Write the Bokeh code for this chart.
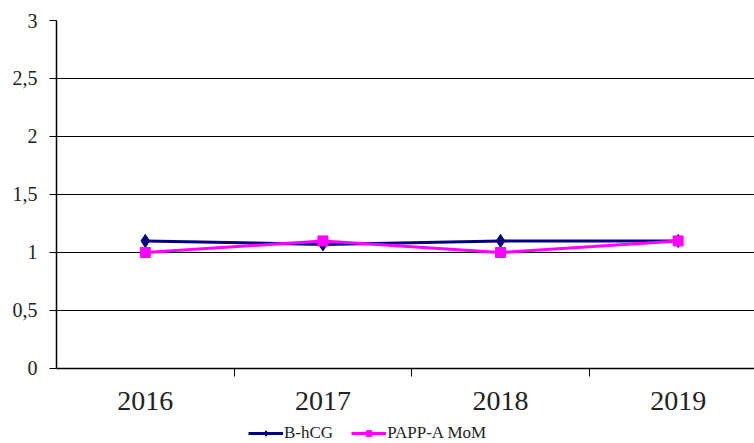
from bokeh.plotting import figure
from bokeh.models import Range1d, FixedTicker, CustomJSTickFormatter, Legend
from bokeh.embed import file_html
from bokeh.resources import INLINE

# Series values per year
years = ["2016", "2017", "2018", "2019"]
bhcg = [1.10, 1.07, 1.10, 1.10]
pappa_mom = [1.00, 1.10, 1.00, 1.10]
y_ticks = [0, 0.5, 1, 1.5, 2, 2.5, 3]

SERIF = "Liberation Serif"
NAVY = "#000080"
MAGENTA = "#FF00FF"

xs = list(range(len(years)))

# The frame runs to the bottom edge; the value axis spans 0..3 and the
# category axis sits at y = 0, leaving room underneath for the legend.
p = figure(
    frame_width=698, frame_height=423,
    x_range=Range1d(-0.5, 3.43), y_range=Range1d(-0.6466, 3),
    output_backend="svg", toolbar_location=None,
    min_border_left=56, min_border_right=0, min_border_top=20, min_border_bottom=0,
)
p.outline_line_color = None
p.background_fill_color = "white"
p.border_fill_color = "white"

# Y axis: comma decimals, serif labels
p.yaxis.ticker = FixedTicker(ticks=y_ticks)
p.yaxis.bounds = (0, 3)
p.yaxis.formatter = CustomJSTickFormatter(code="return tick.toString().replace('.', ',');")
p.yaxis.major_label_text_font = SERIF
p.yaxis.major_label_text_font_size = "20px"
p.yaxis.major_label_text_color = "#222222"
p.yaxis.axis_line_color = "black"
p.yaxis.major_tick_line_color = "black"
p.yaxis.major_tick_out = 7
p.yaxis.major_tick_in = 0
p.yaxis.minor_tick_line_color = None
p.yaxis.major_label_standoff = 12
p.yaxis.axis_line_width = 1.5

# X axis at y = 0: year labels centred on categories, tick marks between them
p.xaxis.fixed_location = 0
p.xaxis.ticker = FixedTicker(ticks=xs, minor_ticks=[x + 0.5 for x in xs])
p.xaxis.formatter = CustomJSTickFormatter(args=dict(years=years),
                                          code="return years[Math.round(tick)] || '';")
p.xaxis.major_label_text_font = SERIF
p.xaxis.major_label_text_font_size = "28px"
p.xaxis.major_label_text_color = "#222222"
p.xaxis.major_tick_line_color = None
p.xaxis.major_tick_out = 0
p.xaxis.major_tick_in = 0
p.xaxis.minor_tick_line_color = "black"
p.xaxis.minor_tick_out = 8
p.xaxis.minor_tick_in = 0
p.xaxis.axis_line_color = "black"
p.xaxis.axis_line_width = 1.5
p.xaxis.major_label_standoff = 16

p.xgrid.grid_line_color = None
p.ygrid.ticker = FixedTicker(ticks=y_ticks)
p.ygrid.grid_line_color = "black"
p.ygrid.grid_line_width = 1.2

# Series
l1 = p.line(xs, bhcg, line_color=NAVY, line_width=3)
s1 = p.scatter(xs, bhcg, marker="diamond", size=13, fill_color=NAVY, line_color=NAVY)
l2 = p.line(xs, pappa_mom, line_color=MAGENTA, line_width=3)
s2 = p.scatter(xs, pappa_mom, marker="square", size=10, fill_color=MAGENTA, line_color=MAGENTA)

legend = Legend(
    items=[("B-hCG", [l1, s1]), ("PAPP-A MoM", [l2, s2])],
    orientation="horizontal", location=(192, 0),
    label_text_font=SERIF, label_text_font_size="17px", label_text_color="#222222",
    label_height=18, glyph_width=35, glyph_height=14, label_standoff=1, spacing=18,
    padding=0, margin=0, border_line_color=None, background_fill_alpha=0,
)
p.add_layout(legend, "center")

open("out.html", "w").write(file_html(p, INLINE))
